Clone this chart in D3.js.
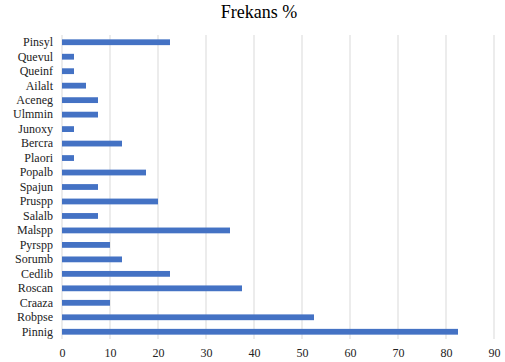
<!DOCTYPE html>
<html><head><meta charset="utf-8">
<script src="https://cdn.jsdelivr.net/npm/d3@7"></script>
<style>body{margin:0;background:#fff}svg{display:block}</style>
</head><body>
<script>
const categories = ["Pinsyl","Quevul","Queinf","Ailalt","Aceneg","Ulmmin","Junoxy","Bercra","Plaori","Popalb","Spajun","Pruspp","Salalb","Malspp","Pyrspp","Sorumb","Cedlib","Roscan","Craaza","Robpse","Pinnig"];
const values = [22.5,2.5,2.5,5,7.5,7.5,2.5,12.5,2.5,17.5,7.5,20,7.5,35,10,12.5,22.5,37.5,10,52.5,82.5];
const xTicks = [0,10,20,30,40,50,60,70,80,90];
const title = "Frekans %";

const W=505,H=362;
const m={l:62,r:11,t:35,b:23};
const FONT='"Liberation Serif", "DejaVu Serif", serif';
const svg=d3.select("body").append("svg").attr("width",W).attr("height",H);
const x=d3.scaleLinear().domain([0,90]).range([m.l,W-m.r]);
const y=d3.scaleBand().domain(categories).range([m.t,H-m.b]).paddingInner(0.6).paddingOuter(0.3);

svg.append("g").selectAll("line").data(xTicks).join("line")
  .attr("x1",d=>x(d)).attr("x2",d=>x(d)).attr("y1",m.t).attr("y2",H-m.b)
  .attr("stroke","#d9d9d9").attr("stroke-width",1);

svg.append("g").selectAll("rect").data(categories).join("rect")
  .attr("x",x(0)).attr("y",(d)=>y(d)).attr("height",y.bandwidth())
  .attr("width",(d,i)=>x(values[i])-x(0)).attr("fill","#4472c4");

const xa=svg.append("g").attr("transform",`translate(0,${H-m.b})`)
  .call(d3.axisBottom(x).tickValues(xTicks).tickSize(0).tickPadding(9));
xa.attr("font-family",FONT).attr("font-size",12);
xa.select(".domain").remove();
xa.selectAll("text").attr("fill","#222");

const ya=svg.append("g").attr("transform",`translate(${m.l},0)`)
  .call(d3.axisLeft(y).tickSize(0).tickPadding(9));
ya.attr("font-family",FONT).attr("font-size",12);
ya.select(".domain").remove();
ya.selectAll("text").attr("fill","#222");

svg.append("text").attr("x",259).attr("y",18).attr("text-anchor","middle")
  .attr("font-family",FONT).attr("font-size",18).attr("fill","#000").text(title);
</script>
</body></html>
